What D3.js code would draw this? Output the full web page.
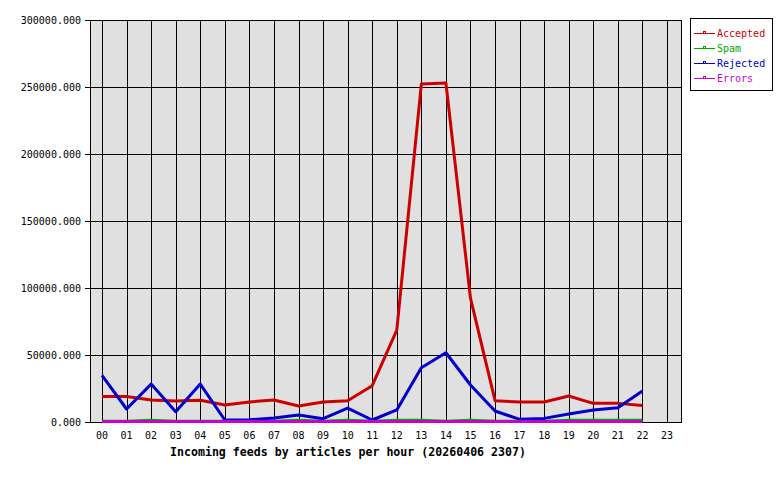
<!DOCTYPE html>
<html>
<head>
<meta charset="utf-8">
<script src="https://cdn.jsdelivr.net/npm/d3@7"></script>
<style>
  body { margin: 0; background: #fff; }
  text { font-family: "DejaVu Sans Mono", monospace; }
</style>
</head>
<body>
<div id="chart"></div>
<script>
// hourly feed stats
const hours = ["00","01","02","03","04","05","06","07","08","09","10","11",
               "12","13","14","15","16","17","18","19","20","21","22","23"];

const accepted = [19100, 19000, 16400, 15700, 16200, 12700, 15000, 16400, 11900, 14900, 15900, 27100,
                  68600, 252200, 253000, 92500, 15900, 14900, 14900, 19400, 13900, 13900, 12400];
const spam     = [500, 500, 1300, 500, 500, 500, 500, 500, 1300, 500, 1300, 500,
                  1300, 1300, 500, 1300, 500, 500, 500, 1300, 1300, 1300, 1300];
const rejected = [34800, 9700, 28300, 7700, 28300, 1500, 1700, 3000, 5200, 2500, 10400, 1500,
                  9000, 40500, 51700, 27600, 8200, 2000, 2700, 6000, 9000, 10700, 23100];
const errors   = [300, 300, 300, 300, 300, 300, 300, 300, 300, 300, 300, 300,
                  300, 300, 300, 300, 300, 300, 300, 300, 300, 300, 300];

const yTicks = [0, 50000, 100000, 150000, 200000, 250000, 300000];

const seriesNames = ["Accepted", "Spam", "Rejected", "Errors"];
const seriesColors = ["#cc0000", "#00aa00", "#0000cc", "#cc00cc"];

const color = d3.scaleOrdinal()
    .domain(seriesNames)
    .range(seriesColors);

const width = 780, height = 480;
const plot = {left: 90, right: 681, top: 20, bottom: 422};

const svg = d3.select("#chart").append("svg")
    .attr("width", width)
    .attr("height", height);

const x = d3.scalePoint()
    .domain(hours)
    .range([102, 667]);

const y = d3.scaleLinear()
    .domain([0, 300000])
    .range([plot.bottom, plot.top]);

// plot background
svg.append("rect")
    .attr("x", plot.left + 0.5).attr("y", plot.top + 0.5)
    .attr("width", plot.right - plot.left).attr("height", plot.bottom - plot.top)
    .attr("fill", "#e0e0e0");

// grid
const grid = svg.append("g").attr("stroke", "#000").attr("shape-rendering", "crispEdges");
grid.selectAll(".vg").data(hours).join("line")
    .attr("x1", d => Math.round(x(d)) + 0.5).attr("x2", d => Math.round(x(d)) + 0.5)
    .attr("y1", plot.top).attr("y2", plot.bottom);
grid.selectAll(".hg").data(yTicks).join("line")
    .attr("x1", plot.left - 5).attr("x2", plot.right)
    .attr("y1", d => Math.round(y(d)) + 0.5).attr("y2", d => Math.round(y(d)) + 0.5);

svg.append("rect")
    .attr("x", plot.left + 0.5).attr("y", plot.top + 0.5)
    .attr("width", plot.right - plot.left).attr("height", plot.bottom - plot.top)
    .attr("fill", "none").attr("stroke", "#000").attr("shape-rendering", "crispEdges");

// y labels
svg.append("g").selectAll("text").data(yTicks).join("text")
    .attr("x", 81).attr("y", d => y(d))
    .attr("dy", "0.35em")
    .attr("text-anchor", "end")
    .attr("font-size", 10)
    .text(d => d3.format(".3f")(d));

// x labels
svg.append("g").selectAll("text").data(hours).join("text")
    .attr("x", d => x(d)).attr("y", 435)
    .attr("dy", "0.35em")
    .attr("text-anchor", "middle")
    .attr("font-size", 10)
    .text(d => d);

svg.append("text")
    .attr("x", 348).attr("y", 452)
    .attr("dy", "0.35em")
    .attr("text-anchor", "middle")
    .attr("font-size", 11.6)
    .attr("font-weight", "bold")
    .text("Incoming feeds by articles per hour (20260406 2307)");

// lines
const line = d3.line()
    .x((d, i) => x(hours[i]))
    .y(d => y(d));

const allSeries = [accepted, spam, rejected, errors];
svg.append("g").selectAll("path").data(allSeries).join("path")
    .attr("d", line)
    .attr("fill", "none")
    .attr("stroke", (d, i) => seriesColors[i])
    .attr("stroke-width", 3)
    .attr("stroke-linejoin", "round");

// legend
const legend = svg.append("g");
legend.append("rect")
    .attr("x", 690.5).attr("y", 18.5)
    .attr("width", 82).attr("height", 72)
    .attr("fill", "#fff").attr("stroke", "#000");

const item = legend.selectAll("g").data(seriesNames).join("g")
    .attr("transform", (d, i) => `translate(0,${33 + i * 15})`);
item.append("line")
    .attr("x1", 694).attr("x2", 715).attr("y1", 0.5).attr("y2", 0.5)
    .attr("shape-rendering", "crispEdges")
    .attr("stroke", d => color(d));
item.append("rect")
    .attr("x", 703.5).attr("y", -1.5).attr("width", 2).attr("height", 2)
    .attr("fill", "none")
    .attr("shape-rendering", "crispEdges")
    .attr("stroke", d => color(d));
item.append("text")
    .attr("x", 717).attr("y", 0)
    .attr("dy", "0.35em")
    .attr("font-size", 10)
    .attr("fill", d => color(d))
    .text(d => d);
</script>
</body>
</html>
